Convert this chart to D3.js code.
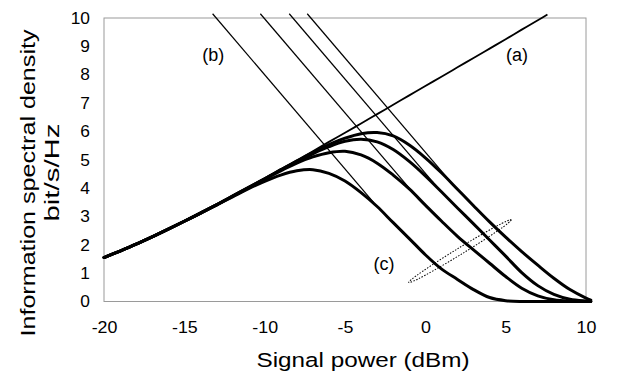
<!DOCTYPE html>
<html><head><meta charset="utf-8">
<script src="https://cdn.jsdelivr.net/npm/d3@7/dist/d3.min.js"></script>
<style>
body{margin:0;background:#fff}
svg{display:block}
text{font-family:"Liberation Sans",Arial,Helvetica,sans-serif;fill:#000}
</style>
</head><body>
<svg id="chart" width="617" height="375"></svg>
<script>
// ---- data ----
const powerDbm = [-20,-19,-18,-17,-16,-15,-14,-13,-12,-11,-10,-9,-8,-7,-6,-5,-4,-3,-2,-1,0,1,2,3,4,5,6,7,8,9,10,10.3];

// (a) linear (noise-only) limit
const linearPower = [-20,-19,-18,-17,-16,-15,-14,-13,-12,-11,-10,-9,-8,-7,-6,-5,-4,-3,-2,-1,0,1,2,3,4,5,6,7,7.6];
const linearCapacity = [1.55,1.78,2.02,2.28,2.55,2.83,3.12,3.41,3.72,4.03,4.34,4.66,4.98,5.30,5.63,5.95,6.28,6.61,6.94,7.27,7.60,7.93,8.26,8.59,8.92,9.25,9.59,9.92,10.12];

// (c) capacity curves with nonlinearity (four cases)
const capacity1 = [1.55,1.78,2.02,2.28,2.55,2.83,3.11,3.40,3.69,3.98,4.24,4.46,4.61,4.65,4.52,4.25,3.84,3.35,2.78,2.22,1.65,1.15,0.78,0.42,0.14,0.03,0.0,0.0,0.0,0.0,0.0,0.0];
const capacity2 = [1.55,1.78,2.02,2.28,2.55,2.83,3.12,3.41,3.71,4.01,4.31,4.61,4.88,5.10,5.25,5.30,5.17,4.88,4.46,3.97,3.40,2.84,2.30,1.82,1.35,0.88,0.47,0.20,0.06,0.01,0.0,0.0];
const capacity3 = [1.55,1.78,2.02,2.28,2.55,2.83,3.12,3.41,3.72,4.02,4.33,4.64,4.93,5.21,5.46,5.65,5.72,5.63,5.36,4.94,4.43,3.87,3.30,2.74,2.17,1.60,1.02,0.56,0.25,0.08,0.02,0.01];
const capacity4 = [1.55,1.78,2.02,2.28,2.55,2.83,3.12,3.41,3.72,4.03,4.33,4.65,4.95,5.25,5.53,5.76,5.92,5.96,5.84,5.52,5.07,4.54,3.96,3.38,2.81,2.27,1.76,1.28,0.82,0.42,0.12,0.05];

// (b) nonlinear-noise-only asymptotes
const asymStartPower = [-13.24,-10.27,-8.47,-7.35];
const asymStartCapacity = [10.15,10.15,10.15,10.15];
const asymEndPower = [-3.2,-1.0,0.5,2.0];
const asymEndCapacity = [3.48,4.0,4.19,3.94];

// (c) grouping ellipse end points
const ellipsePower = [-1.03,5.34];
const ellipseCapacity = [0.67,2.88];

const xTicks = [-20,-15,-10,-5,0,5,10];
const yTicks = [0,1,2,3,4,5,6,7,8,9,10];
const labels = [{t:"(a)",p:5.7,c:8.5},{t:"(b)",p:-13.2,c:8.5},{t:"(c)",p:-2.57,c:1.1}];

// ---- drawing ----
const svg = d3.select("#chart");
const L = 104, R = 586, T = 18, B = 301.5;
const x = d3.scaleLinear().domain([-20,10]).range([L,R]);
const y = d3.scaleLinear().domain([0,10]).range([B,T]);

function stretch(sel, f){
  sel.each(function(){
    const len = this.getComputedTextLength();
    this.setAttribute("textLength", len*f);
    this.setAttribute("lengthAdjust","spacingAndGlyphs");
  });
}

// frame
svg.append("rect").attr("x",L).attr("y",T).attr("width",R-L).attr("height",B-T)
  .attr("fill","none").attr("stroke","#9a9a9a").attr("stroke-width",1);

// axes
const gx = svg.append("g").attr("transform",`translate(0,${B})`)
  .call(d3.axisBottom(x).tickValues(xTicks).tickSize(0).tickPadding(20).tickFormat(d=>String(d)));
gx.select(".domain").remove();
gx.selectAll("text").attr("font-size",16.5).attr("font-family",null).style("fill","#000");
stretch(gx.selectAll("text"),1.08);

const gy = svg.append("g").attr("transform",`translate(${L},0)`)
  .call(d3.axisLeft(y).tickValues(yTicks).tickSize(0).tickPadding(14).tickFormat(d=>String(d)));
gy.select(".domain").remove();
gy.selectAll("text").attr("font-size",16.5).attr("font-family",null).style("fill","#000");
stretch(gy.selectAll("text"),1.05);

// axis titles
svg.append("text").attr("x",363).attr("y",366.5).attr("text-anchor","middle")
  .attr("font-size",20.5).attr("textLength",213).attr("lengthAdjust","spacingAndGlyphs")
  .text("Signal power (dBm)");
svg.append("text").attr("transform","translate(35,183) rotate(-90)").attr("text-anchor","middle")
  .attr("font-size",20.5).attr("textLength",307).attr("lengthAdjust","spacingAndGlyphs")
  .text("Information spectral density");
svg.append("text").attr("transform","translate(59,172.5) rotate(-90)").attr("text-anchor","middle")
  .attr("font-size",20.5).attr("textLength",98).attr("lengthAdjust","spacingAndGlyphs")
  .text("bit/s/Hz");

// thin asymptote lines (b)
const straight = d3.line().x(d=>x(d[0])).y(d=>y(d[1]));
asymStartPower.forEach((p,i)=>{
  svg.append("path")
    .attr("d", straight([[p,asymStartCapacity[i]],[asymEndPower[i],asymEndCapacity[i]]]))
    .attr("fill","none").attr("stroke","#000").attr("stroke-width",1.2);
});

// (a) line
const smooth = d3.line().x(d=>x(d[0])).y(d=>y(d[1])).curve(d3.curveCatmullRom.alpha(0.5));
svg.append("path").attr("d", smooth(linearPower.map((p,i)=>[p,linearCapacity[i]])))
  .attr("fill","none").attr("stroke","#000").attr("stroke-width",1.8);

// bold capacity curves (c)
[capacity1,capacity2,capacity3,capacity4].forEach(series=>{
  svg.append("path").attr("d", smooth(powerDbm.map((p,i)=>[p,series[i]])))
    .attr("fill","none").attr("stroke","#000").attr("stroke-width",3)
    .attr("stroke-linejoin","round").attr("stroke-linecap","round");
});

// dotted ellipse
const e1 = [x(ellipsePower[0]), y(ellipseCapacity[0])];
const e2 = [x(ellipsePower[1]), y(ellipseCapacity[1])];
const ecx = (e1[0]+e2[0])/2, ecy = (e1[1]+e2[1])/2;
const erx = Math.hypot(e2[0]-e1[0], e2[1]-e1[1])/2;
const eang = Math.atan2(e2[1]-e1[1], e2[0]-e1[0])*180/Math.PI;
svg.append("ellipse").attr("transform",`translate(${ecx},${ecy}) rotate(${eang})`)
  .attr("rx",erx).attr("ry",3.3).attr("fill","none").attr("stroke","#000")
  .attr("stroke-width",1).attr("stroke-dasharray","1.5,1.5");

// annotations
labels.forEach(l=>{
  svg.append("text").attr("x",x(l.p)).attr("y",y(l.c)).attr("text-anchor","middle")
    .attr("font-size",18).text(l.t);
});
</script>
</body></html>
